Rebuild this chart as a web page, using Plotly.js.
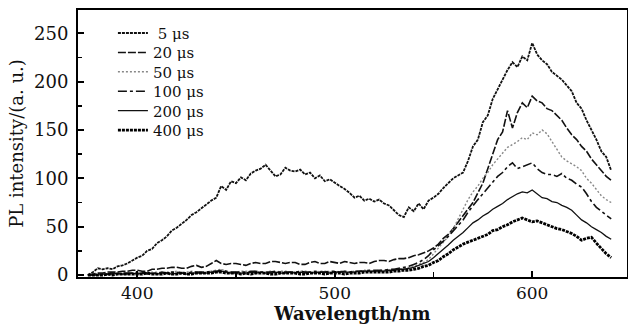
<!DOCTYPE html>
<html>
<head>
<meta charset="utf-8">
<script src="https://cdn.plot.ly/plotly-3.0.1.min.js"></script>
<style>html,body{margin:0;padding:0;background:#fff;}#chart{width:628px;height:325px;}</style>
</head>
<body>
<div id="chart"></div>
<script>
var wavelength = [];
for (var w = 375; w <= 640; w += 2.5) wavelength.push(w);
var seriesNames = ["\u00a05 μs","20 μs","50 μs","100 μs","200 μs","400 μs"];
var s5 = [0,3,7,6,7,6,9,10,12,15,
  18,20,25,27,33,36,40,46,49,53,
  57,62,65,69,73,77,80,92,88,97,
  95,101,98,105,108,110,114,108,102,104,
  111,108,107,109,104,106,100,103,97,99,
  95,92,89,85,80,82,77,79,76,78,
  74,72,67,62,60,70,66,74,68,77,
  80,84,90,95,100,103,106,118,133,140,
  158,165,182,192,202,212,220,215,226,222,
  240,228,222,218,210,206,202,196,190,178,
  172,160,150,140,128,122,108];
var s20 = [0,1,2,2,3,3,3,4,4,5,
  5,4,4,6,6,7,7,8,8,7,
  7,9,10,8,9,12,15,12,11,12,
  12,11,10,12,13,12,12,14,14,13,
  12,13,13,11,11,13,14,12,12,14,
  13,12,14,13,12,13,13,12,14,15,
  15,14,16,17,17,18,20,21,23,25,
  28,32,38,42,48,55,62,68,75,85,
  95,110,125,140,148,170,152,168,178,173,
  185,180,178,172,170,165,160,152,145,140,
  133,128,120,114,108,102,98];
var s50 = [0,0,1,1,2,1,2,1,2,2,
  3,2,2,3,3,2,3,3,4,3,
  3,4,3,2,3,4,5,6,4,3,
  3,4,4,3,4,3,3,4,3,4,
  4,3,3,4,4,3,3,4,4,3,
  3,4,4,3,4,4,5,4,4,5,
  5,5,6,6,7,8,9,11,13,16,
  22,28,33,40,48,58,68,78,86,92,
  100,106,114,120,125,132,135,138,142,140,
  147,145,150,146,138,130,122,118,115,112,
  108,100,95,88,82,78,75];
var s100 = [0,0,1,1,1,2,1,2,2,2,
  2,3,2,2,2,3,2,3,3,2,
  2,3,3,3,3,4,4,5,4,3,
  3,3,3,4,4,3,3,3,4,3,
  3,3,3,4,3,3,4,3,3,4,
  4,3,4,3,4,4,4,5,5,5,
  5,6,6,7,8,9,11,13,16,20,
  26,30,35,40,46,52,57,65,72,78,
  84,90,97,102,106,112,116,110,112,114,
  116,110,106,104,104,102,105,100,98,94,
  91,84,76,70,66,62,58];
var s200 = [0,0,0,1,1,1,2,1,1,2,
  1,2,1,2,1,2,2,1,2,2,
  1,2,2,2,2,3,3,4,3,2,
  2,2,2,3,2,3,2,2,3,2,
  2,3,2,3,2,3,2,3,3,2,
  3,3,3,3,3,4,4,4,4,4,
  4,5,5,6,6,7,8,10,12,14,
  18,22,27,31,36,40,44,49,54,57,
  61,64,68,71,74,78,81,84,86,85,
  88,84,80,79,76,75,72,70,67,62,
  57,54,50,47,44,40,37];
var s400 = [0,0,0,0,1,0,1,1,1,1,
  1,1,2,1,1,1,2,1,1,2,
  1,1,2,2,2,2,3,3,2,2,
  2,1,2,1,2,2,2,1,1,2,
  2,2,2,1,1,2,2,2,1,2,
  2,2,1,2,2,2,3,3,3,3,
  3,3,4,4,5,5,6,7,9,10,
  13,15,19,22,26,29,32,34,36,38,
  40,42,46,47,50,52,55,57,59,57,
  55,56,54,52,50,48,47,45,43,40,
  36,38,39,33,27,22,18];

var allSeries = [s5, s20, s50, s100, s200, s400];
var styles = [
  {color:'#111', width:1.8, dash:'3px,1px'},
  {color:'#111', width:1.6, dash:'8px,2px'},
  {color:'#888', width:1.4, dash:'2px,2px'},
  {color:'#111', width:1.6, dash:'dashdot'},
  {color:'#111', width:1.3, dash:'solid'},
  {color:'#000', width:2.8, dash:'3px,1px'}
];
var legendY = [0.913, 0.840, 0.768, 0.695, 0.622, 0.549];
var ff = '"DejaVu Serif", "Liberation Serif", serif';
var traces = allSeries.map(function(v, i){
  return {x: wavelength, y: v, type:'scatter', mode:'lines', name: seriesNames[i], line: styles[i],
          legend: i === 0 ? 'legend' : 'legend' + (i + 1)};
});

var layout = {
  width:628, height:325,
  margin:{l:78, r:1, t:10, b:48},
  paper_bgcolor:'#fff', plot_bgcolor:'#fff',
  font: {family:ff, size:16, color:'#111'},
  showlegend:true,
  xaxis:{range:[370,648], showline:true, linecolor:'#000', linewidth:2, mirror:true,
         ticks:'inside', ticklen:6, tickwidth:2, tickcolor:'#000',
         tickvals:[400,500,600], ticktext:['400','500','600'],
         minor:{tickvals:[450,550], ticks:'inside', ticklen:5, tickwidth:1.5, tickcolor:'#000'},
         showgrid:false, zeroline:false, ticklabelstandoff:0,
         tickfont:{family:ff, size:17, color:'#111'},
         title:{text:'<b>Wavelength/nm</b>', font:{family:ff, size:18, color:'#111'}, standoff:5}},
  yaxis:{range:[-2,274], showline:true, linecolor:'#000', linewidth:2, mirror:true,
         ticks:'inside', ticklen:6, tickwidth:2, tickcolor:'#000',
         tickvals:[0,50,100,150,200,250],
         minor:{tickvals:[25,75,125,175,225], ticks:'inside', ticklen:4, tickwidth:1.5, tickcolor:'#000'},
         showgrid:false, zeroline:false, ticklabelstandoff:4,
         tickfont:{family:ff, size:18, color:'#111'},
         title:{text:'PL intensity/(a. u.)', font:{family:ff, size:18, color:'#111'}, standoff:6}}
};
legendY.forEach(function(y, i){
  var key = i === 0 ? 'legend' : 'legend' + (i + 1);
  layout[key] = {x:0.0636, y:y, xanchor:'left', yanchor:'middle', bgcolor:'rgba(0,0,0,0)',
                 borderwidth:0, font:{family:ff, size:15, color:'#111'}};
});
Plotly.newPlot('chart', traces, layout, {displayModeBar:false, staticPlot:true});
</script>
</body>
</html>
